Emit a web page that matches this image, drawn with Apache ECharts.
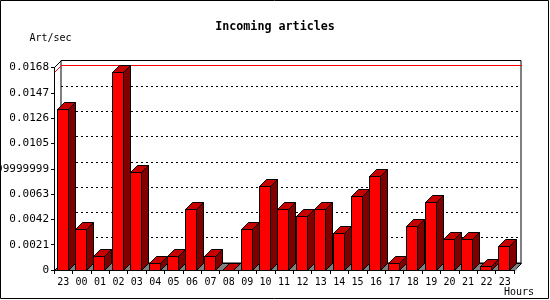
<!DOCTYPE html>
<html><head><meta charset="utf-8">
<script src="https://cdn.jsdelivr.net/npm/echarts@6/dist/echarts.min.js"></script>
<style>html,body{margin:0;padding:0;background:#fff}#c{width:550px;height:300px}</style>
</head><body><div id="c"></div>
<script>
const hours = ['23','00','01','02','03','04','05','06','07','08','09','10','11','12','13','14','15','16','17','18','19','20','21','22','23'];
const artPerSec = [0.01333,0.00333,0.00111,0.01639,0.00806,0.00056,0.00111,0.00500,0.00111,0,0.00333,0.00694,0.00500,0.00444,0.00500,0.00306,0.00611,0.00778,0.00056,0.00361,0.00556,0.00250,0.00250,0.00028,0.00194];
const yTickLabels = ['0','0.0021','0.0042','0.0063','0.008399999999999999','0.0105','0.0126','0.0147','0.0168'];
const yStep = 0.0021;
const yMax = 0.0168;
const titleText = 'Incoming articles';
const yName = 'Art/sec';
const xName = 'Hours';

const DX = 7, DY = 7;
const FONT = '"DejaVu Sans Mono", monospace';
const px = v => Math.round(v - 0.5) + 0.5;
const line = {stroke: '#000', lineWidth: 1};

function renderBar(params, api) {
  const i = api.value(0), v = api.value(1);
  const top = api.coord([i, v]);
  const base = api.coord([i, 0]);
  const band = api.size([1, 0])[0];
  const x0 = px(top[0] - band / 2 + 3);
  const w = Math.round(band * 0.6);
  const yt = px(top[1]);
  const yb = px(base[1]);
  return {type: 'group', children: [
    {type: 'polygon', shape: {points: [[x0 + w, yb], [x0 + w + DX, yb - DY], [x0 + w + DX, yb]]}, style: {fill: '#808080'}},
    {type: 'polygon', shape: {points: [[x0 + w, yt], [x0 + w + DX, yt - DY], [x0 + w + DX, yb - DY], [x0 + w, yb]]}, style: Object.assign({fill: '#800000'}, line)},
    {type: 'polygon', shape: {points: [[x0, yt], [x0 + w, yt], [x0 + w + DX, yt - DY], [x0 + DX, yt - DY]]}, style: Object.assign({fill: '#C80000'}, line)},
    {type: 'rect', shape: {x: x0, y: yt, width: w, height: yb - yt}, style: Object.assign({fill: '#FF0000'}, line)}
  ]};
}

function renderFloor(params, api) {
  const cs = params.coordSys;
  const y0 = px(api.coord([0, 0])[1]);
  const yTop = px(api.coord([0, yMax])[1]);
  const xl = px(cs.x), xr = px(cs.x + cs.width);
  return {type: 'group', children: [
    {type: 'polygon', shape: {points: [[xl, y0], [xr, y0], [xr + DX, y0 - DY], [xl + DX, y0 - DY]]}, style: Object.assign({fill: '#808080'}, line)},
    {type: 'line', shape: {x1: xl, y1: yTop, x2: xl + DX, y2: yTop - DY}, style: line}
  ]};
}

function renderMax(params, api) {
  const cs = params.coordSys;
  const yf = px(api.coord([0, api.value(1)])[1]);
  const xl = px(cs.x);
  return {type: 'group', children: [
    {type: 'line', shape: {x1: xl, y1: yf, x2: xl + DX, y2: yf - DY}, style: {stroke: '#FF0000', lineWidth: 1}},
    {type: 'rect', shape: {x: xl + DX - 0.5, y: yf - DY - 0.5, width: cs.width + 1, height: 1}, style: {fill: '#FF0000'}}
  ]};
}

const maxVal = Math.max.apply(null, artPerSec);

const chart = echarts.init(document.getElementById('c'), null, {renderer: 'canvas'});
chart.setOption({
  backgroundColor: '#fff',
  animation: false,
  title: {text: titleText, left: 'center', top: 16, textStyle: {fontFamily: FONT, fontSize: 11.7, fontWeight: 'bold', color: '#000'}},
  grid: [
    {left: 54, right: 36, top: 67.5, bottom: 30, show: false, outerBoundsMode: 'none', containLabel: false},
    {left: 61, right: 29, top: 60.5, bottom: 37, show: true, borderColor: '#000', borderWidth: 1, backgroundColor: 'transparent', outerBoundsMode: 'none', containLabel: false}
  ],
  xAxis: [
    {gridIndex: 0, type: 'category', data: hours, boundaryGap: true, z: 10,
     axisLine: {show: true, lineStyle: {color: '#000', width: 1}},
     axisTick: {show: true, length: 4, interval: 0, lineStyle: {color: '#000'}},
     axisLabel: {interval: 0, margin: 7, color: '#000', fontFamily: FONT, fontSize: 10},
     splitLine: {show: false}},
    {gridIndex: 1, type: 'value', min: 0, max: 1, show: false}
  ],
  yAxis: [
    {gridIndex: 0, type: 'value', min: 0, max: yMax, interval: yStep, z: 10,
     axisLine: {show: true, lineStyle: {color: '#000', width: 1}},
     axisTick: {show: true, length: 3, lineStyle: {color: '#000'}},
     axisLabel: {margin: 5, color: '#000', fontFamily: FONT, fontSize: 11,
       formatter: v => yTickLabels[Math.round(v / yStep)]},
     splitLine: {show: false}},
    {gridIndex: 1, type: 'value', min: 0, max: yMax, interval: yStep,
     axisLine: {show: false}, axisTick: {show: false}, axisLabel: {show: false},
     splitLine: {show: true, lineStyle: {color: '#000', width: 1, type: [2, 3]}}}
  ],
  graphic: [
    {type: 'rect', shape: {x: 0.5, y: 0.5, width: 548, height: 298}, style: {fill: null, stroke: '#000', lineWidth: 1}, z: 100},
    {type: 'text', x: 29.5, y: 38.5, style: {text: yName, font: '10px ' + FONT, fill: '#000', verticalAlign: 'middle'}},
    {type: 'text', x: 504, y: 292, style: {text: xName, font: '10px ' + FONT, fill: '#000', verticalAlign: 'middle'}}
  ],
  series: [
    {type: 'custom', xAxisIndex: 0, yAxisIndex: 0, z: 1, clip: false, data: [[0, 0]], renderItem: renderFloor, silent: true},
    {type: 'custom', xAxisIndex: 0, yAxisIndex: 0, z: 2, clip: false, data: [[0, maxVal]], renderItem: renderMax, silent: true},
    {type: 'custom', xAxisIndex: 0, yAxisIndex: 0, z: 3, clip: false, data: artPerSec.map((v, i) => [i, v]), renderItem: renderBar, encode: {x: 0, y: 1}}
  ]
});
</script></body></html>
